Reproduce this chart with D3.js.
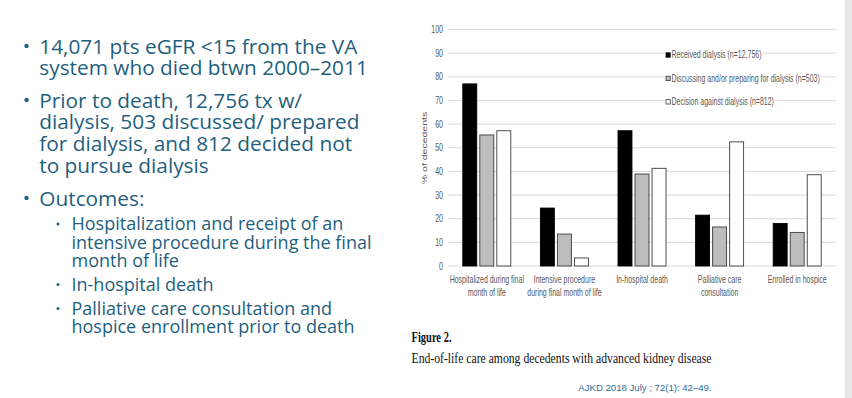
<!DOCTYPE html>
<html>
<head>
<meta charset="utf-8">
<script src="https://cdn.jsdelivr.net/npm/d3@7"></script>
<style>
  html, body { margin: 0; padding: 0; background: #fff; }
  svg { display: block; }
</style>
</head>
<body>
<div id="slide"></div>
<script>
// ── data ──
const categories = ['hosp', 'intensive', 'death', 'palliative', 'hospice'];
const categoryLabels = [
  ['Hospitalized during final', 'month of life'],
  ['Intensive procedure', 'during final month of life'],
  ['In-hospital death'],
  ['Palliative care', 'consultation'],
  ['Enrolled in hospice']
];
const seriesNames = [
  'Received dialysis (n=12,756)',
  'Discussing and/or preparing for dialysis (n=503)',
  'Decision against dialysis (n=812)'
];
const receivedDialysis = [77, 24.5, 57.2, 21.5, 18];
const discussingDialysis = [55.4, 13.5, 38.9, 16.5, 14.2];
const declinedDialysis = [57.2, 3.4, 41.3, 52.5, 38.6];
const yTicks = [0, 10, 20, 30, 40, 50, 60, 70, 80, 90, 100];

const bullets = [
  { level: 0, lines: ['14,071 pts eGFR <15 from the VA', 'system who died btwn 2000–2011'] },
  { level: 0, lines: ['Prior to death, 12,756 tx w/', 'dialysis, 503 discussed/ prepared', 'for dialysis, and 812 decided not', 'to pursue dialysis'] },
  { level: 0, lines: ['Outcomes:'] },
  { level: 1, lines: ['Hospitalization and receipt of an', 'intensive procedure during the final', 'month of life'] },
  { level: 1, lines: ['In-hospital death'] },
  { level: 1, lines: ['Palliative care consultation and', 'hospice enrollment prior to death'] }
];
const captionTitle = 'Figure 2.';
const captionText = 'End-of-life care among decedents with advanced kidney disease';
const citation = 'AJKD 2018 July ; 72(1): 42–49.';

const W = 852, H = 398;
const svg = d3.select('#slide').append('svg').attr('width', W).attr('height', H);

svg.append('rect').attr('width', W).attr('height', H).attr('fill', '#fff');
// grey strip on the right edge
svg.append('rect').attr('x', 845).attr('y', 0).attr('width', 7).attr('height', H).attr('fill', '#e7e7e7');

/* ── bullet text ── */
const TEAL = '#1f5f80';
const BODY_FONT = '"Open Sans", "Noto Sans", sans-serif';
const lvl = [
  { dot: 26.5, r: 2.2, dy: 7.6, text: 39.3, size: 20.8, lh: 21.8 },
  { dot: 58, r: 1.5, dy: 6, text: 71.5, size: 18, lh: 18.7 }
];
// distance from last baseline of one bullet to first baseline of the next
const gaps = [0, 32.2, 32.6, 24.5, 23.1, 24];
let by = 53.5;
const tg = svg.append('g').attr('fill', TEAL).attr('font-family', BODY_FONT);
bullets.forEach((b, i) => {
  const L = lvl[b.level];
  by += gaps[i];
  tg.append('circle').attr('cx', L.dot).attr('cy', by - L.dy).attr('r', L.r);
  b.lines.forEach((ln, j) => {
    tg.append('text').attr('x', L.text).attr('y', by + j * L.lh)
      .attr('font-size', L.size).text(ln);
  });
  by += (b.lines.length - 1) * L.lh;
});

/* ── chart ── */
const K = 0.70;                       // horizontal squash of the pasted figure
const CH_FONT = '"Liberation Sans", Arial, sans-serif';
const GREY_TXT = '#595959';
const chart = svg.append('g').attr('font-family', CH_FONT);

const y = d3.scaleLinear().domain([0, 100]).range([266, 29.5]);
const x0 = d3.scaleBand().domain(categories).range([448, 836]);
const x1 = d3.scaleBand().domain(d3.range(3)).range([-24, 24]).paddingInner(0.18);

const seriesVals = [receivedDialysis, discussingDialysis, declinedDialysis];
const fills = ['#000000', '#bdbdbd', '#ffffff'];
const strokes = ['#000000', '#3c3c3c', '#3c3c3c'];

function squashText(sel, px, py) {
  return sel.attr('transform', `translate(${px},${py}) scale(${K},1)`);
}

// gridlines
chart.append('g').selectAll('line').data(yTicks).join('line')
  .attr('x1', x0.range()[0]).attr('x2', x0.range()[1])
  .attr('y1', d => y(d)).attr('y2', d => y(d))
  .attr('stroke', '#d9d9d9').attr('stroke-width', 1);

// y tick labels
chart.append('g').selectAll('text').data(yTicks).join('text')
  .each(function (d) { squashText(d3.select(this), 443, y(d) + 3.5); })
  .attr('text-anchor', 'end').attr('font-size', 10).attr('fill', GREY_TXT)
  .text(d => d);

// y title
chart.append('text')
  .attr('transform', `translate(427,148) rotate(-90) scale(1,${K})`)
  .attr('text-anchor', 'middle').attr('font-size', 10.5).attr('fill', GREY_TXT)
  .text('% of decedents');

// bars
const groups = chart.append('g').selectAll('g').data(categories).join('g')
  .attr('transform', d => `translate(${x0(d) + x0.bandwidth() / 2},0)`);
groups.selectAll('rect')
  .data((d, ci) => seriesVals.map((vals, si) => ({ si, v: vals[ci] })))
  .join('rect')
  .attr('x', d => x1(d.si)).attr('width', x1.bandwidth())
  .attr('y', d => y(d.v)).attr('height', d => y(0) - y(d.v))
  .attr('fill', d => fills[d.si]).attr('stroke', d => strokes[d.si])
  .attr('stroke-width', 0.9);

// category labels
categories.forEach((c, ci) => {
  categoryLabels[ci].forEach((ln, j) => {
    chart.append('text')
      .call(s => squashText(s, x0(c) + x0.bandwidth() / 2, 283 + j * 12.5))
      .attr('text-anchor', 'middle').attr('font-size', 10).attr('fill', GREY_TXT)
      .text(ln);
  });
});

// legend
const leg = chart.append('g');
seriesNames.forEach((name, i) => {
  const ly = 55 + i * 23.4;
  const g = leg.append('g');
  const bg = g.append('rect').attr('fill', '#fff');
  g.append('rect').attr('x', 666).attr('y', ly - 2.2).attr('width', 4.2).attr('height', 4.4)
    .attr('fill', fills[i]).attr('stroke', strokes[i]).attr('stroke-width', 0.8);
  const t = g.append('text')
    .call(s => squashText(s, 671.5, ly + 3.4))
    .attr('font-size', 10).attr('fill', GREY_TXT).text(name);
  const w = t.node().getComputedTextLength() * K;
  bg.attr('x', 665).attr('y', ly - 5).attr('width', 671.5 + w - 665 + 1).attr('height', 10);
});

/* ── caption & citation ── */
svg.append('text').attr('x', 411.5).attr('y', 341.5)
  .attr('font-family', '"Liberation Serif", "Times New Roman", serif')
  .attr('font-weight', 'bold').attr('font-size', 14).attr('fill', '#111')
  .attr('textLength', 40).attr('lengthAdjust', 'spacingAndGlyphs')
  .text(captionTitle);
svg.append('text').attr('x', 411.5).attr('y', 362.5)
  .attr('font-family', '"Liberation Serif", "Times New Roman", serif')
  .attr('font-size', 14).attr('fill', '#111')
  .attr('textLength', 300).attr('lengthAdjust', 'spacingAndGlyphs')
  .text(captionText);
svg.append('text').attr('x', 578.3).attr('y', 390.5)
  .attr('font-family', CH_FONT).attr('font-size', 9.6).attr('fill', '#2f70a0')
  .text(citation);
</script>
</body>
</html>
